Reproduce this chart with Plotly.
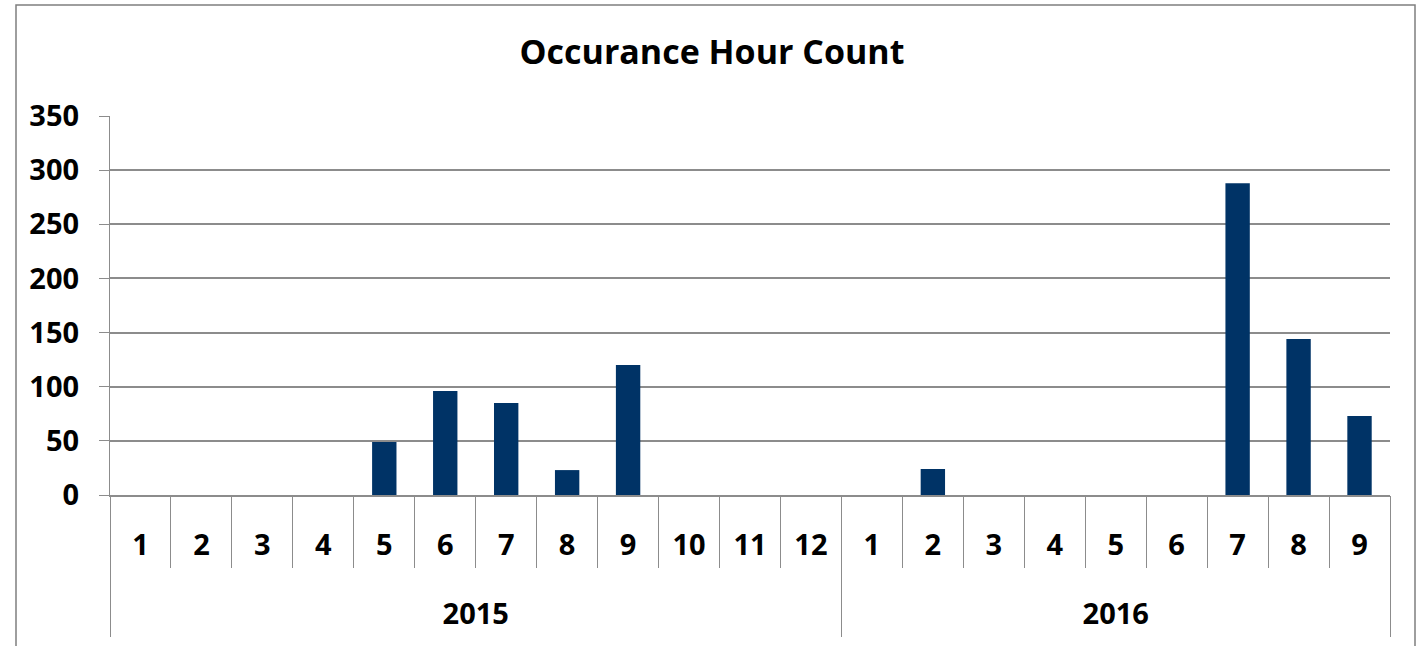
import plotly.graph_objects as go

years = ["2015"] * 12 + ["2016"] * 9
months = [str(m) for m in range(1, 13)] + [str(m) for m in range(1, 10)]
counts = [0, 0, 0, 0, 49, 96, 85, 23, 120, 0, 0, 0,
          0, 24, 0, 0, 0, 0, 288, 144, 73]
y_ticks = [0, 50, 100, 150, 200, 250, 300, 350]

# unique category keys built from the two label lists
cats = [f"{y}-{m}" for y, m in zip(years, months)]

# year groups: centre index and boundaries (derived from the category lists)
year_names = []
for y in years:
    if y not in year_names:
        year_names.append(y)
year_centers, bounds = [], [-0.5]
for yn in year_names:
    idx = [i for i, y in enumerate(years) if y == yn]
    year_centers.append((idx[0] + idx[-1]) / 2)
    bounds.append(idx[-1] + 0.5)

FONT = "Open Sans"
GRID = "#8c8c8c"
n = len(cats)

fig = go.Figure()
fig.add_trace(go.Bar(
    x=cats, y=counts,
    marker=dict(color="#003366", line=dict(width=0)),
))
# invisible helper trace so the year axis is drawn
fig.add_trace(go.Scatter(x=[year_centers[0]], y=[None], xaxis="x2",
                         mode="markers", showlegend=False, hoverinfo="skip"))

W, H = 1424, 646
L, R, T, B = 110, 34, 116, 151
pw, ph = W - L - R, H - T - B


def px_x(p):
    return (p - L) / pw


def px_y(p):
    return (H - B - p) / ph


fig.update_layout(
    width=W, height=H,
    margin=dict(l=L, r=R, t=T, b=B, autoexpand=False),
    paper_bgcolor="white", plot_bgcolor="white",
    bargap=0.6, showlegend=False,
    title=dict(text="<b>Occurance Hour Count</b>", x=0.5, xanchor="center",
               y=1 - 52 / H, yanchor="middle",
               font=dict(family=FONT, size=34, color="black")),
    font=dict(family=FONT, color="black"),
    xaxis=dict(
        type="category", automargin=False, range=[-0.5, n - 0.5],
        tickvals=cats, ticktext=months,
        showline=True, linecolor=GRID, linewidth=1.6,
        ticks="outside", tickson="boundaries", ticklen=71, tickcolor=GRID,
        tickwidth=1.3,
        tickfont=dict(family=FONT, size=29, color="black", weight="bold"),
        ticklabelstandoff=23,
        showgrid=False,
    ),
    xaxis2=dict(
        type="linear", overlaying="x", anchor="y", side="bottom",
        automargin=False, range=[-0.5, n - 0.5],
        tickvals=year_centers, ticktext=year_names,
        ticks="", showline=False, showgrid=False, zeroline=False,
        tickfont=dict(family=FONT, size=29, color="black", weight="bold"),
        ticklabelstandoff=99,
        minor=dict(tickvals=bounds, ticks="outside", ticklen=141,
                   tickcolor=GRID, tickwidth=1.3, showgrid=False),
    ),
    yaxis=dict(
        range=[0, 350], tickvals=y_ticks, showgrid=True, gridcolor=GRID,
        gridwidth=1.6, showline=True, linecolor=GRID, linewidth=1.3,
        ticks="outside", ticklen=10, tickcolor=GRID, automargin=False,
        tickfont=dict(family=FONT, size=29, color="black", weight="bold"),
        ticklabelstandoff=14,
        zeroline=False,
    ),
    shapes=[dict(type="rect", xref="paper", yref="paper",
                 x0=px_x(16), x1=px_x(1415),
                 y0=px_y(700), y1=px_y(5),
                 line=dict(color="#7f7f7f", width=1.5), layer="below")],
)

fig.write_html("out.html", config={"displayModeBar": False},
               post_script="document.body.style.margin='0';")
